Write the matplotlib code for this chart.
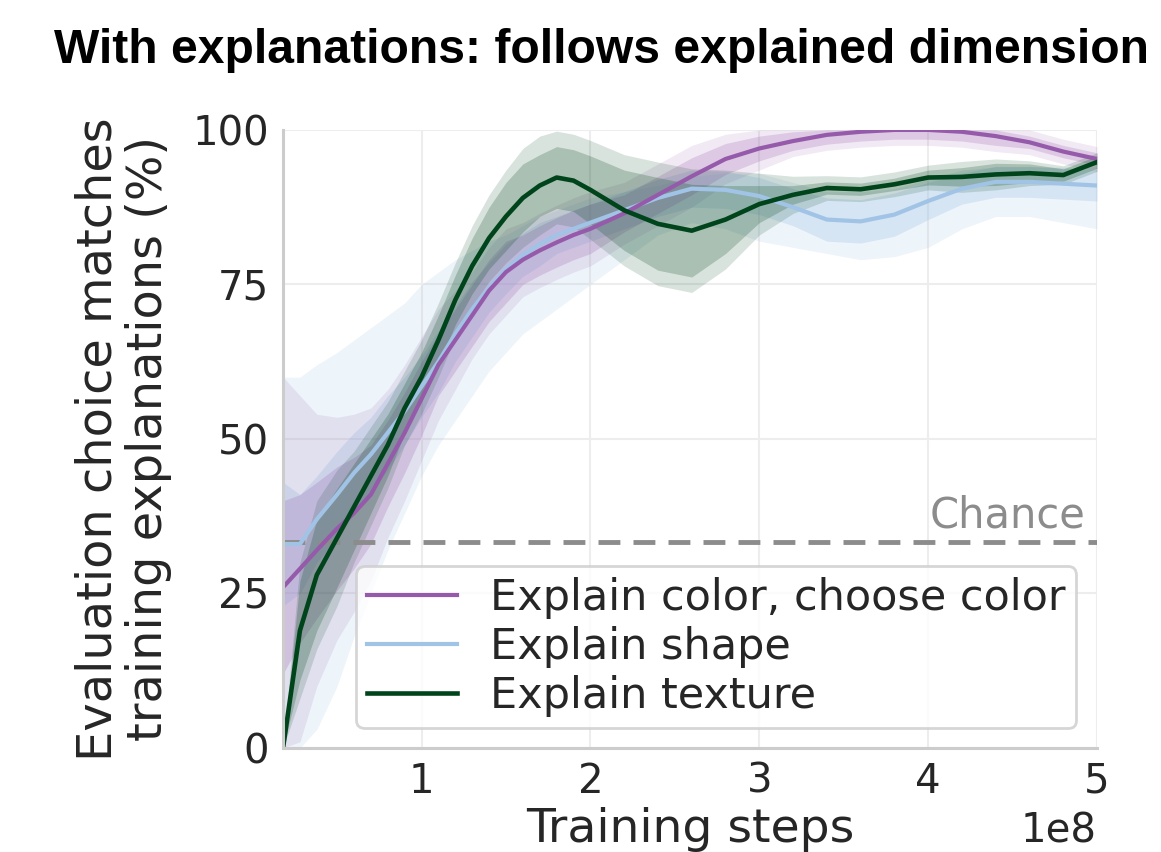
import numpy as np
import matplotlib.pyplot as plt

# training steps (in units of 1e8)
steps = [0.18, 0.28, 0.38, 0.5, 0.6, 0.7, 0.8, 0.9, 1.0, 1.1, 1.2, 1.3, 1.4, 1.5, 1.6, 1.7, 1.8,
         1.9, 2.0, 2.2, 2.4, 2.6, 2.8, 3.0, 3.2, 3.4, 3.6, 3.8, 4.0, 4.2, 4.4, 4.6, 4.8, 5.0]

# Explain color, choose color
color_mean = [26, 29, 32, 35.5, 38, 41, 46, 51, 56.5, 62, 66, 70, 74, 77, 79, 80.5, 81.8,
              83, 84, 86.5, 89.5, 92.5, 95.3, 97, 98.2, 99.2, 99.7, 100, 100, 99.7, 99, 98, 96.5, 95.3]
color_inner = [14, 12, 11, 10, 9, 8, 7, 6.5, 6, 5, 5, 5, 5, 5, 4, 4, 4,
               4, 4, 3, 3, 3, 2.5, 2, 1.5, 1.5, 1.5, 1.5, 1.5, 1.5, 1.5, 1, 1, 1]
color_outer = [34, 28, 22, 18, 16, 14, 12, 11, 10, 9, 8, 7, 7, 7, 6, 6, 6,
               6, 6, 5, 5, 5, 4, 3.5, 2.5, 2.5, 2.5, 2.5, 2.5, 2.5, 2.5, 2, 2, 2]

# Explain shape
shape_mean = [33, 33, 37, 41, 44.5, 47.5, 51, 54.5, 58.5, 62.5, 67, 71, 74.5, 77.5, 79.8, 81.5, 83,
              84, 85, 87, 89, 90.5, 90.3, 89.3, 87.5, 85.5, 85.2, 86.3, 88.5, 90.5, 91.6, 91.6, 91.3, 91]
shape_inner = [10, 8, 7, 7, 6.5, 6, 6, 5.5, 5, 5, 4.5, 4.5, 4, 4, 3.5, 3.5, 3,
               3, 3, 3, 3, 3, 3, 3, 3, 3.5, 3.5, 3.5, 3, 2.5, 2.5, 2.5, 2.5, 2.5]
shape_lo = [0, 0, 3, 10, 18, 25, 32, 38, 44, 49, 53, 57, 61, 64, 67, 69, 71,
            73, 75, 79, 83, 85, 84, 82, 81, 80, 79, 79.5, 81, 84, 86, 86, 85, 84]
shape_hi = [60, 60, 62, 64, 66, 68, 70, 72, 75, 77, 79, 80.5, 82, 83, 84.5, 86, 87,
            88, 89, 90, 91, 92.5, 93, 93, 91.5, 90, 90, 90.5, 92, 93.5, 94, 94, 94, 94]

# Explain texture
texture_mean = [0, 19, 28, 34, 39, 44, 49, 55, 60, 66, 72.5, 78, 82.5, 86, 89, 91, 92.3,
                91.8, 90.3, 87, 84.8, 83.7, 85.5, 88, 89.5, 90.6, 90.4, 91.2, 92.3, 92.4, 92.8, 93, 92.7, 94.8]
texture_inner = [0, 8, 9, 8, 7, 6, 5, 4, 4, 4, 4, 4.5, 5, 5.5, 5.5, 5, 5,
                 5, 5.5, 6.5, 7.5, 7.5, 5.5, 3, 1.5, 1, 1, 1, 1.2, 1.5, 1.8, 1.5, 1, 1]
texture_outer = [0, 11, 12, 11, 9, 8, 7, 6, 6, 6, 6, 6.5, 7, 7.5, 8, 8, 7.5,
                 7.5, 8, 9, 10, 10, 8, 5, 3, 2, 2, 2, 2, 2.5, 2.5, 2, 1.5, 1.5]

chance = 100 / 3

purple = '#965aaa'
blue = '#a0c3e6'
green = '#00441b'
text_col = '#262626'

plt.rcParams['font.family'] = 'DejaVu Sans'
fig = plt.figure(figsize=(11.61, 8.52), dpi=100)
ax = fig.add_axes([0.2438, 0.1221, 0.7011, 0.7254])

x = np.array(steps) * 1e8


def draw_series(mean, inner, outer_lo, outer_hi, col, a_out, a_in, lw):
    mean = np.array(mean)
    inner = np.array(inner)
    ax.fill_between(x, np.clip(outer_lo, 0, 100), np.clip(outer_hi, 0, 100),
                    color=col, alpha=a_out, linewidth=0)
    ax.fill_between(x, np.clip(mean - inner, 0, 100), np.clip(mean + inner, 0, 100),
                    color=col, alpha=a_in, linewidth=0)
    ax.plot(x, mean, color=col, linewidth=lw)


cm = np.array(color_mean)
tm = np.array(texture_mean)
draw_series(shape_mean, shape_inner, shape_lo, shape_hi, blue, 0.18, 0.3, 3)
draw_series(color_mean, color_inner, cm - np.array(color_outer), cm + np.array(color_outer),
            purple, 0.13, 0.22, 3)
draw_series(texture_mean, texture_inner, tm - np.array(texture_outer), tm + np.array(texture_outer),
            green, 0.15, 0.22, 3.3)

# legend handles in the desired order
h1, = ax.plot([], [], color=purple, linewidth=3, label='Explain color, choose color')
h2, = ax.plot([], [], color=blue, linewidth=3, label='Explain shape')
h3, = ax.plot([], [], color=green, linewidth=3.3, label='Explain texture')

ax.axhline(chance, color='#8c8c8c', linewidth=3.5, dashes=(4.5, 2.7), zorder=1)
ax.text(4.93e8, chance + 0.9, 'Chance', color='#8c8c8c', fontsize=30, ha='right', va='bottom')

ax.set_xlim(0.18e8, 5e8)
ax.set_ylim(0, 100)
ax.set_xticks([1e8, 2e8, 3e8, 4e8, 5e8])
ax.set_yticks([0, 25, 50, 75, 100])
ax.grid(True, color='#ededed', linewidth=1.5)
ax.set_axisbelow(True)
for s in ['top', 'right']:
    ax.spines[s].set_visible(False)
for s in ['left', 'bottom']:
    ax.spines[s].set_color('#cccccc')
    ax.spines[s].set_linewidth(2.2)
ax.tick_params(length=0, labelsize=29, labelcolor=text_col, pad=10)
ax.xaxis.get_offset_text().set_visible(False)
ax.text(1.0, -0.135, '1e8', transform=ax.transAxes, fontsize=29, color=text_col,
        ha='right', va='center')

ax.set_xlabel('Training steps', fontsize=34, color=text_col, labelpad=4)
ax.set_ylabel('Evaluation choice matches\ntraining explanations (%)', fontsize=34.5,
              color=text_col, labelpad=15, linespacing=1.08)

leg = ax.legend(handles=[h1, h2, h3], loc='lower left', bbox_to_anchor=(0.09, 0.032),
                borderaxespad=0, fontsize=31, handlelength=2.1, handletextpad=0.75,
                labelspacing=0.17, borderpad=0.25, frameon=True, fancybox=True)
leg.get_frame().set_edgecolor('#cccccc')
leg.get_frame().set_linewidth(2)
for t in leg.get_texts():
    t.set_color(text_col)

fig.text(0.5185, 0.941, 'With explanations: follows explained dimension', fontsize=34.6,
         fontweight='bold', family='Liberation Sans', ha='center', va='center')

fig.savefig('out.png', dpi=100)
